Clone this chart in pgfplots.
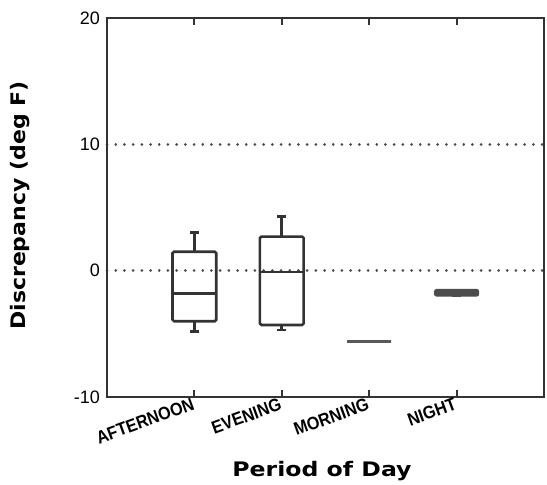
\documentclass[border=0pt]{standalone}
\usepackage{fontspec}
\setmainfont{Liberation Sans}
\newfontfamily\heavy{DejaVu Sans}
\usepackage{graphicx}
\usepackage{pgfplots}
\usepgfplotslibrary{statistics}
\pgfplotsset{compat=1.18}
\newcommand{\xtl}[1]{\scalebox{0.9}[1]{#1}}
\begin{document}
\begin{tikzpicture}
\path[use as bounding box] (-107pt,-88pt) rectangle (440pt,379pt+18pt);
\begin{axis}[
  scale only axis, width=437pt, height=379pt,
  xmin=0, xmax=5, ymin=-10, ymax=20,
  xtick={1,2,3,4}, xticklabels={\xtl{AFTERNOON},\xtl{EVENING},\xtl{MORNING},\xtl{NIGHT}},
  ytick={-10,0,10,20},
  ymajorgrids,
  grid style={black!70, line width=2.8pt, line cap=round, dash pattern=on 0.1pt off 8.6pt},
  axis line style={black!80, line width=2.8pt},
  xtick align=inside, major tick length=7pt,
  xtick style={black!80, line width=2pt},
  ytick style={draw=none},
  /pgf/number format/assume math mode=true,
  yticklabel style={font=\fontsize{18}{18}\selectfont, inner sep=2pt, xshift=-5pt},
  xticklabel style={rotate=20, anchor=north east, font=\bfseries\fontsize{18}{18}\selectfont, inner sep=0pt, xshift=-3pt, yshift=1pt},
  ylabel={\scalebox{1.1}[1]{Discrepancy (deg F)}},
  ylabel style={font=\heavy\bfseries\fontsize{20}{20}\selectfont, at={(axis description cs:-0.199,0.505)}, anchor=center},
  xlabel={\scalebox{1.18}[1]{Period of Day}},
  xlabel style={font=\heavy\bfseries\fontsize{20}{20}\selectfont, at={(axis description cs:0.492,-0.195)}, anchor=center},
  boxplot/draw direction=y,
  boxplot/box extend=0.5,
  boxplot/whisker extend=0.1,
]
\addplot[black!80, line width=2.6pt, rounded corners=1.5pt, boxplot prepared={draw position=1, lower whisker=-4.8, lower quartile=-4.0, median=-1.8, upper quartile=1.5, upper whisker=3.0}] coordinates {};
\addplot[black!80, line width=2.6pt, rounded corners=1.5pt, boxplot prepared={draw position=2, lower whisker=-4.7, lower quartile=-4.3, median=-0.1, upper quartile=2.7, upper whisker=4.3}] coordinates {};
\addplot[black!65, line width=3.2pt, boxplot prepared={draw position=3, lower whisker=-5.6, lower quartile=-5.6, median=-5.6, upper quartile=-5.6, upper whisker=-5.6}] coordinates {};
\addplot[black!70, fill=black!70, line width=1.5pt, rounded corners=2pt, boxplot prepared={draw position=4, lower whisker=-2.0, lower quartile=-2.0, median=-1.75, upper quartile=-1.5, upper whisker=-1.5}] coordinates {};
\end{axis}
\end{tikzpicture}
\end{document}
